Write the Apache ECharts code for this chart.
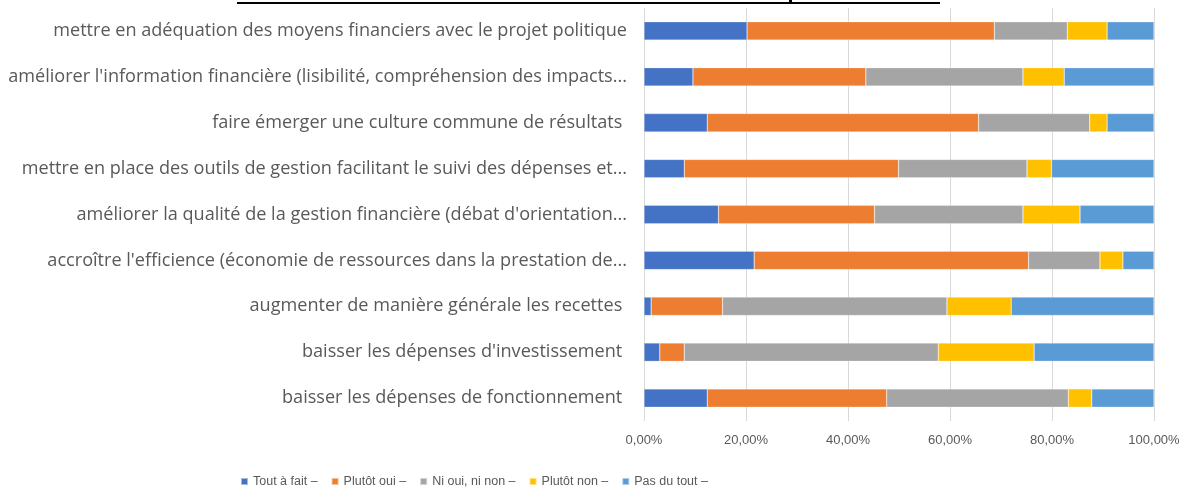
<!DOCTYPE html>
<html>
<head>
<meta charset="utf-8">
<script src="https://cdn.jsdelivr.net/npm/echarts@6/dist/echarts.min.js"></script>
<style>
  html, body { margin: 0; padding: 0; background: #fff; }
  #chart { width: 1191px; height: 488px; }
</style>
</head>
<body>
<div id="chart"></div>
<script>
const categories = [
  "mettre en adéquation des moyens financiers avec le projet politique",
  "améliorer l'information financière (lisibilité, compréhension des impacts...",
  "faire émerger une culture commune de résultats ",
  "mettre en place des outils de gestion facilitant le suivi des dépenses et...",
  "améliorer la qualité de la gestion financière (débat d'orientation...",
  "accroître l'efficience (économie de ressources dans la prestation de...",
  "augmenter de manière générale les recettes ",
  "baisser les dépenses d'investissement ",
  "baisser les dépenses de fonctionnement "
];

const seriesNames = ["Tout à fait –", "Plutôt oui –", "Ni oui, ni non –", "Plutôt non –", "Pas du tout –"];
const colors = ["#4472C4", "#ED7D31", "#A5A5A5", "#FFC000", "#5B9BD5"];

// valeurs en %
const toutAFait = [20.2, 9.6, 12.4, 7.9, 14.6, 21.6, 1.4, 3.1, 12.4];
const plutotOui = [48.5, 33.9, 53.2, 42.0, 30.6, 53.8, 14.0, 4.8, 35.2];
const niOuiNiNon = [14.3, 30.8, 21.8, 25.2, 29.1, 14.0, 44.0, 49.8, 35.6];
const plutotNon = [7.8, 8.1, 3.4, 4.8, 11.2, 4.5, 12.6, 18.8, 4.6];
const pasDuTout = [9.2, 17.6, 9.2, 20.1, 14.5, 6.1, 28.0, 23.5, 12.2];

const values = [toutAFait, plutotOui, niOuiNiNon, plutotNon, pasDuTout];

const chart = echarts.init(document.getElementById('chart'));
chart.setOption({
  animation: false,
  color: colors,
  textStyle: {fontFamily: 'Liberation Sans'},
  grid: {left: 644, right: 37, top: 8, bottom: 67, outerBoundsMode: 'none', containLabel: false},
  legend: {
    left: 240, top: 475, padding: 0,
    icon: 'rect', itemWidth: 7, itemHeight: 7, itemGap: 13,
    textStyle: {color: '#595959', fontSize: 12.5, fontFamily: 'Liberation Sans'},
    data: seriesNames
  },
  xAxis: {
    type: 'value', min: 0, max: 100, interval: 20,
    axisLine: {show: false}, axisTick: {show: false},
    splitLine: {lineStyle: {color: '#D9D9D9', width: 1}},
    axisLabel: {
      color: '#595959', fontSize: 13, margin: 13,
      formatter: v => v.toFixed(2).replace('.', ',') + '%'
    }
  },
  yAxis: {
    type: 'category', inverse: true, data: categories,
    axisLine: {show: false}, axisTick: {show: false},
    axisLabel: {color: '#595959', fontSize: 18.1, fontFamily: 'Open Sans', margin: 17}
  },
  graphic: [
    {type: 'line', shape: {x1: 237, y1: 3, x2: 940, y2: 3}, style: {stroke: '#000', lineWidth: 2}},
    {type: 'rect', shape: {x: 789, y: 0, width: 3, height: 4}, style: {fill: '#000'}}
  ],
  series: seriesNames.map((name, i) => ({
    name: name,
    type: 'bar',
    stack: 'total',
    barWidth: '40%',
    data: values[i],
    itemStyle: {borderColor: 'rgba(255,255,255,0.5)', borderWidth: 0.5}
  }))
});
</script>
</body>
</html>
